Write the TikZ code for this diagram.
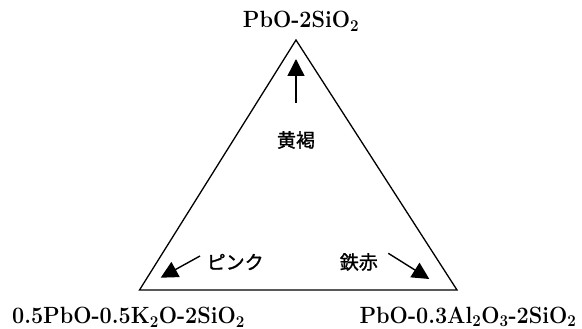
\documentclass[tikz,border=0pt]{standalone}
\usepackage{fontspec}
\usepackage{graphicx}
\newfontfamily\jpfont{Noto Sans CJK JP}[FakeBold=1.2]
\usetikzlibrary{arrows.meta}
\newcommand{\chemlbl}[1]{\scalebox{0.92}[1]{#1}}
\tikzset{
  lbl/.style={inner sep=0pt, font=\fontsize{23.5}{24}\selectfont\bfseries},
  jp/.style={inner sep=0pt, font=\fontsize{19}{20}\selectfont\jpfont},
  edge/.style={line width=1.3pt, line join=miter},
  arr/.style={line width=1.4pt, -{Triangle[length=17pt,width=17pt]}}
}
\begin{document}
\begin{tikzpicture}[x=1pt,y=-1pt]
\useasboundingbox (0,0) rectangle (582,329);
% triangle corners
\coordinate (top) at (296,40);
\coordinate (bl) at (139.5,290);
\coordinate (br) at (457,290);
\draw[edge] (top) -- (bl) -- (br) -- cycle;
% labels
\node[lbl] (ltop) at (301,21) {\chemlbl{PbO-2SiO\textsubscript{2}}};
\node[lbl] (lbl) at (128.5,317) {\chemlbl{0.5PbO-0.5K\textsubscript{2}O-2SiO\textsubscript{2}}};
\node[lbl] (lbr) at (468,317) {\chemlbl{PbO-0.3Al\textsubscript{2}O\textsubscript{3}-2SiO\textsubscript{2}}};
% arrows
\coordinate (u0) at (296,103);
\coordinate (u1) at (296,59);
\draw[arr] (u0) -- (u1);
\coordinate (p0) at (200,256);
\coordinate (p1) at (160.7,277.7);
\draw[arr] (p0) -- (p1);
\coordinate (t0) at (388.3,253.3);
\coordinate (t1) at (429.3,279);
\draw[arr] (t0) -- (t1);
% colour names
\node[jp] (kokatsu) at (296,140) {黄褐};
\node[jp, anchor=west] (pink) at (206.5,262) {ピンク};
\node[jp, anchor=east] (tetsu) at (378,262) {鉄赤};
\end{tikzpicture}
\end{document}
